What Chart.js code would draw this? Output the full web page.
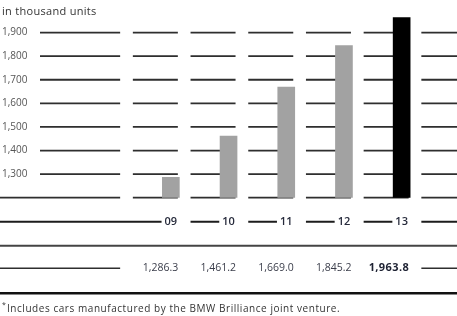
<!DOCTYPE html>
<html><head><meta charset="utf-8">
<script src="https://cdn.jsdelivr.net/npm/chart.js@4.4.0/dist/chart.umd.min.js"></script>
<style>html,body{margin:0;padding:0;background:#fff;overflow:hidden}canvas{display:block}</style>
</head><body>
<canvas id="c" width="457" height="316"></canvas>
<script>
// ---- data ----
const years = ['09', '10', '11', '12', '13'];
const sales = [1286.3, 1461.2, 1669.0, 1845.2, 1963.8];
const yTicks = [1300, 1400, 1500, 1600, 1700, 1800, 1900];
const unitLabel = 'in thousand units';
const footnote = 'Includes cars manufactured by the BMW Brilliance joint venture.';

// ---- styles ----
const W = 457, H = 316;
const FONT = "'Open Sans', 'DejaVu Sans', sans-serif";
const fmt = v => v.toLocaleString('en-US', {minimumFractionDigits: 1, maximumFractionDigits: 1});
const fmtTick = v => v.toLocaleString('en-US');
const barColors = sales.map((v, i) => i === sales.length - 1 ? '#000000' : '#a2a2a2');

const tablePlugin = {
  id: 'table',
  beforeDatasetsDraw(chart) {
    const {ctx, scales: {x, y}} = chart;
    const c0 = x.getPixelForValue(0);
    const period = x.getPixelForValue(1) - c0;
    ctx.save();
    ctx.strokeStyle = '#2e2e2e';
    ctx.lineWidth = 1.8;
    [y.min].concat(yTicks).forEach(v => {
      const py = y.getPixelForValue(v);
      ctx.beginPath();
      ctx.moveTo(v === y.min ? 0 : 40, py);
      ctx.lineTo(c0 - period + 7, py);
      for (let i = 0; i <= years.length; i++) {
        const cx = c0 + period * i;
        ctx.moveTo(cx - 38, py);
        ctx.lineTo(Math.min(cx + 7, W), py);
      }
      ctx.stroke();
    });
    ctx.restore();
  },
  afterDraw(chart) {
    const {ctx, scales: {x, y}} = chart;
    const c0 = x.getPixelForValue(0);
    const period = x.getPixelForValue(1) - c0;
    const base = y.getPixelForValue(y.min);
    ctx.save();
    // year label row lines
    const rowY = base + 24;
    ctx.font = "600 11px " + FONT;
    ctx.strokeStyle = '#1c1c1c';
    ctx.lineWidth = 2;
    ctx.beginPath();
    years.forEach((lab, i) => {
      const cx = c0 + period * i;
      const wdt = ctx.measureText(lab).width;
      const start = i === 0 ? 0 : cx - 38;
      ctx.moveTo(start, rowY);
      ctx.lineTo(cx - wdt / 2 - 3, rowY);
    });
    ctx.moveTo(c0 + period * years.length - 38, rowY);
    ctx.lineTo(W, rowY);
    ctx.stroke();

    // full separator
    ctx.strokeStyle = '#444';
    ctx.lineWidth = 2;
    ctx.beginPath();
    ctx.moveTo(0, base + 48); ctx.lineTo(W, base + 48);
    ctx.stroke();

    // values row
    const valY = base + 70.5;
    ctx.strokeStyle = '#2e2e2e';
    ctx.lineWidth = 1.6;
    ctx.beginPath();
    ctx.moveTo(0, valY); ctx.lineTo(c0 - period + 7, valY);
    ctx.moveTo(c0 + period * years.length - 38, valY); ctx.lineTo(W, valY);
    ctx.stroke();
    ctx.textAlign = 'right';
    ctx.textBaseline = 'middle';
    sales.forEach((v, i) => {
      const cx = c0 + period * i;
      const last = i === sales.length - 1;
      ctx.font = (last ? '700 11px ' : '400 10.5px ') + FONT;
      ctx.letterSpacing = last ? '0.4px' : '0px';
      ctx.fillStyle = last ? '#1e2233' : '#3a3d4a';
      ctx.fillText(fmt(v), cx + 7.5, valY);
    });
    ctx.letterSpacing = '0px';

    // bottom thick line
    ctx.strokeStyle = '#111';
    ctx.lineWidth = 2.6;
    ctx.beginPath();
    ctx.moveTo(0, base + 95.5); ctx.lineTo(W, base + 95.5);
    ctx.stroke();

    // title
    ctx.textAlign = 'left';
    ctx.textBaseline = 'alphabetic';
    ctx.fillStyle = '#333';
    ctx.font = '11px ' + FONT;
    ctx.letterSpacing = '0.3px';
    ctx.fillText(unitLabel, 2, 14.5);

    // footnote
    ctx.letterSpacing = '0px';
    ctx.font = '7px ' + FONT;
    ctx.fillText('*', 2, 307);
    ctx.font = '10px ' + FONT;
    ctx.letterSpacing = '0.55px';
    ctx.fillText(footnote, 7, 311.5);
    ctx.restore();
  }
};

new Chart(document.getElementById('c'), {
  type: 'bar',
  data: {
    labels: years,
    datasets: [{
      data: sales,
      backgroundColor: barColors,
      borderWidth: 0,
      barThickness: 17
    }]
  },
  options: {
    responsive: false,
    devicePixelRatio: 1,
    animation: false,
    layout: {padding: {top: 8.66, left: 2, right: 26.5, bottom: 0}},
    plugins: {legend: {display: false}, tooltip: {enabled: false}, title: {display: false}},
    scales: {
      x: {
        type: 'category',
        offset: true,
        grid: {display: false, drawTicks: false},
        border: {display: false},
        ticks: {
          padding: 17.6,
          font: {family: FONT, size: 11, weight: '600'},
          color: '#262a3b',
          maxRotation: 0,
          autoSkip: false
        },
        afterFit(s) { s.height = 316 - 197.7; }
      },
      y: {
        min: 1200,
        max: 2000,
        grid: {display: false, drawTicks: false},
        border: {display: false},
        ticks: {
          stepSize: 100,
          crossAlign: 'far',
          font: {family: FONT, size: 10},
          color: '#555',
          callback: v => yTicks.includes(v) ? fmtTick(v) : ''
        },
        afterFit(s) { s.width = 140; }
      }
    }
  },
  plugins: [tablePlugin]
});
</script>
</body></html>
